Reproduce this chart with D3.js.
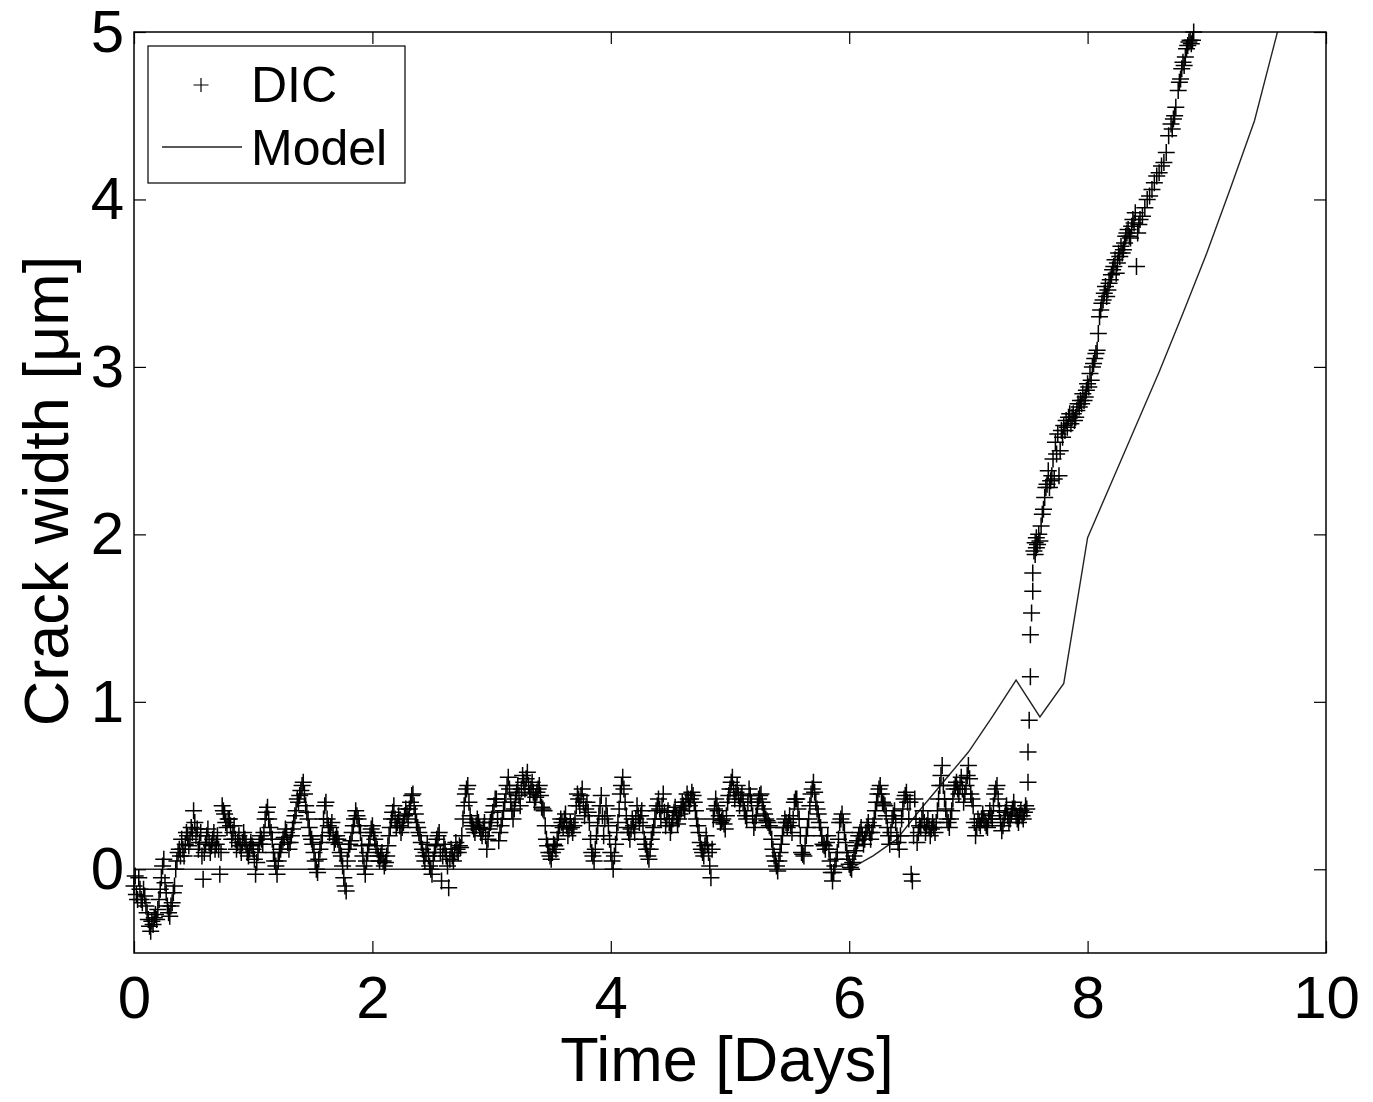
<!DOCTYPE html>
<html>
<head>
<meta charset="utf-8">
<script src="https://cdn.jsdelivr.net/npm/d3@7"></script>
<style>
    body { margin: 0; background: #fff; }
    svg text { font-family: "Liberation Sans", Arial, Helvetica, sans-serif; fill: #000; }
</style>
</head>
<body>
<div id="chart"></div>
<script>
// Tick labels
let xTicks = [0, 2, 4, 6, 8, 10];
let yTicks = [0, 1, 2, 3, 4, 5];

// DIC measurements, flat part: one value every 0.01 day from day 0 (one row = 0.1 day)
let dicStep = 0.01;
let dicFlatValues = [
    -0.10, -0.04, -0.15, -0.18, -0.05, -0.12, -0.18, -0.20, -0.12, -0.16,
    -0.22, -0.26, -0.30, -0.34, -0.37, -0.31, -0.33, -0.29, -0.27, -0.30,
    -0.24, -0.18, -0.12, -0.05, 0.02, 0.06, -0.08, -0.14, -0.22, -0.26,
    -0.28, -0.22, -0.20, -0.14, -0.10, 0.00, 0.05, 0.10, 0.12, 0.08,
    0.18, 0.12, 0.08, 0.15, 0.22, 0.20, 0.14, 0.18, 0.25, 0.22,
    0.35, 0.28, 0.20, 0.24, 0.12, 0.16, 0.22, 0.08, -0.06, 0.10,
    0.15, 0.20, 0.24, 0.16, 0.10, 0.14, 0.18, 0.22, 0.12, 0.15,
    0.20, 0.12, -0.03, 0.10, 0.38, 0.35, 0.33, 0.28, 0.25, 0.30,
    0.30, 0.26, 0.18, 0.22, 0.26, 0.18, 0.12, 0.16, 0.20, 0.14,
    0.10, 0.16, 0.22, 0.18, 0.15, 0.10, 0.08, 0.12, 0.16, 0.14,
    0.12, 0.06, -0.03, 0.04, 0.10, 0.15, 0.20, 0.18, 0.15, 0.22,
    0.30, 0.34, 0.37, 0.30, 0.25, 0.22, 0.18, 0.10, 0.05, 0.02,
    -0.03, 0.05, 0.10, 0.12, 0.15, 0.18, 0.19, 0.24, 0.22, 0.16,
    0.12, 0.16, 0.20, 0.24, 0.28, 0.32, 0.35, 0.42, 0.40, 0.44,
    0.47, 0.50, 0.52, 0.45, 0.38, 0.34, 0.30, 0.25, 0.20, 0.18,
    0.15, 0.10, 0.05, 0.00, -0.02, 0.06, 0.12, 0.16, 0.20, 0.30,
    0.38, 0.40, 0.30, 0.26, 0.22, 0.25, 0.28, 0.20, 0.16, 0.18,
    0.20, 0.18, 0.15, 0.10, 0.08, 0.02, -0.05, -0.10, -0.13, 0.05,
    0.12, 0.15, 0.17, 0.22, 0.26, 0.30, 0.35, 0.32, 0.30, 0.26,
    0.22, 0.14, 0.08, 0.02, -0.03, 0.05, 0.10, 0.15, 0.20, 0.24,
    0.26, 0.22, 0.18, 0.14, 0.12, 0.08, 0.05, 0.08, 0.10, 0.05,
    0.02, 0.04, 0.08, 0.14, 0.20, 0.25, 0.30, 0.34, 0.38, 0.30,
    0.25, 0.28, 0.32, 0.26, 0.22, 0.25, 0.28, 0.32, 0.36, 0.33,
    0.30, 0.36, 0.40, 0.44, 0.45, 0.38, 0.33, 0.28, 0.25, 0.22,
    0.20, 0.16, 0.12, 0.08, 0.05, 0.10, 0.15, 0.08, 0.02, 0.00,
    -0.03, 0.05, 0.10, 0.14, 0.18, 0.20, 0.22, 0.10, -0.07, 0.08,
    0.15, 0.12, 0.08, 0.02, -0.11, 0.06, 0.12, 0.08, 0.05, 0.10,
    0.16, 0.12, 0.10, 0.14, 0.13, 0.20, 0.30, 0.38, 0.45, 0.48,
    0.50, 0.40, 0.32, 0.28, 0.26, 0.24, 0.22, 0.26, 0.30, 0.28,
    0.25, 0.22, 0.20, 0.24, 0.28, 0.20, 0.12, 0.18, 0.24, 0.28,
    0.30, 0.34, 0.38, 0.42, 0.42, 0.30, 0.17, 0.22, 0.26, 0.30,
    0.35, 0.40, 0.45, 0.50, 0.55, 0.48, 0.40, 0.35, 0.30, 0.36,
    0.42, 0.46, 0.50, 0.44, 0.38, 0.48, 0.56, 0.52, 0.48, 0.54,
    0.58, 0.50, 0.45, 0.48, 0.52, 0.46, 0.40, 0.43, 0.46, 0.48,
    0.50, 0.44, 0.37, 0.36, 0.35, 0.26, 0.18, 0.14, 0.10, 0.08,
    0.06, 0.10, 0.15, 0.14, 0.12, 0.18, 0.22, 0.26, 0.30, 0.28,
    0.25, 0.30, 0.33, 0.26, 0.20, 0.24, 0.28, 0.25, 0.22, 0.26,
    0.30, 0.38, 0.45, 0.42, 0.38, 0.44, 0.48, 0.40, 0.32, 0.36,
    0.40, 0.34, 0.28, 0.18, 0.10, 0.08, 0.05, 0.12, 0.20, 0.26,
    0.32, 0.38, 0.44, 0.32, 0.20, 0.30, 0.38, 0.32, 0.26, 0.18,
    0.10, 0.05, 0.00, 0.08, 0.15, 0.22, 0.28, 0.36, 0.45, 0.50,
    0.55, 0.48, 0.40, 0.32, 0.25, 0.22, 0.18, 0.24, 0.30, 0.26,
    0.22, 0.30, 0.38, 0.32, 0.28, 0.32, 0.35, 0.26, 0.18, 0.15,
    0.12, 0.08, 0.06, 0.12, 0.18, 0.22, 0.25, 0.30, 0.35, 0.38,
    0.42, 0.36, 0.30, 0.38, 0.45, 0.34, 0.26, 0.30, 0.35, 0.28,
    0.22, 0.26, 0.30, 0.34, 0.37, 0.32, 0.27, 0.30, 0.33, 0.36,
    0.40, 0.38, 0.35, 0.40, 0.45, 0.42, 0.38, 0.42, 0.46, 0.44,
    0.40, 0.35, 0.30, 0.26, 0.22, 0.16, 0.12, 0.10, 0.08, 0.14,
    0.20, 0.15, 0.10, 0.02, -0.05, 0.12, 0.30, 0.36, 0.42, 0.38,
    0.35, 0.32, 0.28, 0.29, 0.30, 0.27, 0.24, 0.32, 0.40, 0.44,
    0.48, 0.52, 0.55, 0.48, 0.42, 0.46, 0.50, 0.44, 0.38, 0.42,
    0.45, 0.40, 0.35, 0.32, 0.30, 0.40, 0.48, 0.44, 0.40, 0.32,
    0.25, 0.28, 0.32, 0.38, 0.42, 0.44, 0.45, 0.40, 0.36, 0.33,
    0.30, 0.29, 0.28, 0.26, 0.25, 0.18, 0.12, 0.08, 0.05, 0.02,
    -0.01, 0.05, 0.10, 0.15, 0.20, 0.25, 0.30, 0.28, 0.25, 0.28,
    0.32, 0.26, 0.22, 0.30, 0.40, 0.42, 0.42, 0.36, 0.30, 0.20,
    0.10, 0.09, 0.08, 0.14, 0.20, 0.25, 0.30, 0.38, 0.45, 0.48,
    0.52, 0.46, 0.40, 0.36, 0.33, 0.28, 0.25, 0.20, 0.15, 0.14,
    0.12, 0.16, 0.20, 0.12, 0.05, -0.02, -0.07, -0.02, 0.02, 0.06,
    0.10, 0.18, 0.28, 0.30, 0.33, 0.28, 0.22, 0.16, 0.10, 0.06,
    0.03, 0.01, 0.00, 0.04, 0.08, 0.11, 0.14, 0.17, 0.20, 0.22,
    0.25, 0.20, 0.15, 0.18, 0.22, 0.25, 0.28, 0.22, 0.18, 0.22,
    0.26, 0.30, 0.35, 0.40, 0.45, 0.48, 0.50, 0.45, 0.40, 0.39,
    0.38, 0.32, 0.25, 0.20, 0.15, 0.22, 0.30, 0.32, 0.35, 0.28,
    0.20, 0.16, 0.12, 0.20, 0.30, 0.36, 0.42, 0.44, 0.46, 0.40,
    0.30, 0.40, -0.03, -0.07, 0.20, 0.42, 0.30, 0.16, 0.22, 0.26,
    0.25, 0.30, 0.35, 0.28, 0.22, 0.26, 0.30, 0.25, 0.20, 0.24,
    0.28, 0.25, 0.22, 0.28, 0.35, 0.42, 0.50, 0.56, 0.62, 0.50,
    0.42, 0.36, 0.30, 0.28, 0.25, 0.30, 0.35, 0.42, 0.48, 0.50,
    0.52, 0.48, 0.45, 0.50, 0.55, 0.48, 0.40, 0.45, 0.50, 0.56,
    0.62, 0.54, 0.45, 0.42, 0.38, 0.28, 0.20, 0.25, 0.30, 0.28,
    0.26, 0.30, 0.33, 0.30, 0.28, 0.26, 0.25, 0.30, 0.35, 0.32,
    0.30, 0.38, 0.45, 0.48, 0.50, 0.42, 0.35, 0.28, 0.23, 0.26,
    0.30, 0.34, 0.38, 0.32, 0.28, 0.30, 0.33, 0.36, 0.40, 0.36,
    0.32, 0.30, 0.28, 0.32, 0.35, 0.32, 0.30, 0.34, 0.38, 0.36
];

// DIC measurements, jump and rising part: [day, width]
let dicRise = [
    [7.50, 0.52], [7.50, 0.70], [7.51, 0.89], [7.52, 1.15], [7.52, 1.40], [7.53, 1.53], [7.54, 1.66], [7.54, 1.77],
    [7.55, 1.90], [7.56, 1.95], [7.56, 1.88], [7.57, 1.92], [7.57, 1.98], [7.58, 1.94], [7.59, 2.00], [7.60, 1.96],
    [7.61, 2.05], [7.62, 2.12], [7.63, 2.15], [7.64, 2.22], [7.65, 2.28], [7.66, 2.30], [7.67, 2.38], [7.68, 2.28], [7.69, 2.32],
    [7.70, 2.35], [7.71, 2.45], [7.72, 2.33], [7.73, 2.55], [7.74, 2.48], [7.75, 2.60], [7.76, 2.35], [7.77, 2.50], [7.78, 2.62], [7.79, 2.58],
    [7.80, 2.65], [7.81, 2.62], [7.82, 2.68], [7.83, 2.64], [7.84, 2.70], [7.85, 2.72], [7.86, 2.66], [7.87, 2.70], [7.88, 2.72], [7.89, 2.68],
    [7.90, 2.70], [7.91, 2.74], [7.92, 2.78], [7.93, 2.76], [7.94, 2.80], [7.95, 2.78], [7.96, 2.84], [7.97, 2.80], [7.98, 2.82], [7.99, 2.86],
    [8.00, 2.90], [8.01, 2.88], [8.02, 2.96], [8.03, 2.92], [8.04, 3.00], [8.05, 3.02], [8.06, 3.05], [8.07, 3.08], [8.08, 3.10], [8.09, 3.20],
    [8.10, 3.30], [8.11, 3.34], [8.12, 3.38], [8.13, 3.40], [8.14, 3.44], [8.15, 3.48], [8.16, 3.42], [8.17, 3.46], [8.18, 3.50], [8.19, 3.52],
    [8.20, 3.55], [8.21, 3.58], [8.22, 3.60], [8.23, 3.64], [8.24, 3.56], [8.25, 3.62], [8.26, 3.68], [8.27, 3.66], [8.28, 3.72], [8.29, 3.68],
    [8.30, 3.70], [8.31, 3.74], [8.32, 3.78], [8.33, 3.80], [8.34, 3.82], [8.35, 3.78], [8.36, 3.77], [8.37, 3.84], [8.38, 3.88], [8.39, 3.86],
    [8.40, 3.92], [8.41, 3.60], [8.42, 3.80], [8.43, 3.85], [8.44, 3.88], [8.46, 3.90], [8.48, 3.95], [8.50, 4.00], [8.52, 4.02], [8.54, 4.06],
    [8.56, 4.10], [8.58, 4.14], [8.60, 4.16], [8.62, 4.20], [8.64, 4.22], [8.66, 4.28], [8.68, 4.38], [8.70, 4.45], [8.71, 4.42], [8.72, 4.48],
    [8.73, 4.50], [8.74, 4.55], [8.76, 4.65], [8.77, 4.70], [8.78, 4.72], [8.79, 4.78], [8.80, 4.82], [8.81, 4.80], [8.82, 4.85], [8.83, 4.90],
    [8.84, 4.92], [8.85, 4.94], [8.86, 4.95], [8.87, 4.93], [8.88, 4.95], [8.89, 5.00]
];

// Model curve
let modelTimes = [0, 6.0, 6.2, 6.4, 6.6, 6.8, 7.0, 7.2, 7.4, 7.6, 7.8, 8.0, 8.2, 8.4, 8.6, 8.8, 9.0, 9.2, 9.4, 9.6];
let modelValues = [0, 0, 0.08, 0.18, 0.36, 0.53, 0.70, 0.91, 1.13, 0.91, 1.11, 1.98, 2.31, 2.64, 2.97, 3.32, 3.68, 4.07, 4.47, 5.02];

let width = 1373;
let height = 1102;
let plotLeft = 134, plotRight = 1326, plotTop = 32, plotBottom = 953;

let x = d3.scaleLinear().domain([0, 10]).range([plotLeft, plotRight]);
let y = d3.scaleLinear().domain([-0.5, 5]).range([plotBottom, plotTop]);

let svg = d3.select("#chart")
    .append("svg")
    .attr("width", width)
    .attr("height", height)
    .style("background", "#fff");

// build the point list
let dicPoints = dicFlatValues.map((v, i) => ({ t: i * dicStep, v: v }));
dicRise.forEach((d) => dicPoints.push({ t: d[0], v: d[1] }));
let modelPoints = modelTimes.map((t, i) => ({ t: t, v: modelValues[i] }));

svg.append("defs").append("clipPath").attr("id", "plot-clip")
    .append("rect")
    .attr("x", plotLeft).attr("y", plotTop)
    .attr("width", plotRight - plotLeft).attr("height", plotBottom - plotTop);

// Model line
svg.append("path")
    .datum(modelPoints)
    .attr("clip-path", "url(#plot-clip)")
    .attr("fill", "none")
    .attr("stroke", "#222")
    .attr("stroke-width", 1.4)
    .attr("d", d3.line().x(d => x(d.t)).y(d => y(d.v)));

// DIC markers
let plus = "M-8.5,0H8.5M0,-8.5V8.5";
svg.append("g")
    .selectAll("path")
    .data(dicPoints)
    .join("path")
    .attr("transform", d => `translate(${x(d.t)},${y(d.v)})`)
    .attr("d", plus)
    .attr("fill", "none")
    .attr("stroke", "#000")
    .attr("stroke-width", 1.5);

// Axes (MATLAB style box with inward ticks)
let fontSize = "60px";

let xAxis = svg.append("g")
    .attr("transform", `translate(0,${plotBottom})`)
    .call(d3.axisBottom(x).tickValues(xTicks).tickSizeInner(-12).tickSizeOuter(0).tickPadding(22));
let yAxis = svg.append("g")
    .attr("transform", `translate(${plotLeft},0)`)
    .call(d3.axisLeft(y).tickValues(yTicks).tickFormat(d3.format("d")).tickSizeInner(-12).tickSizeOuter(0).tickPadding(10));
let xAxisTop = svg.append("g")
    .attr("transform", `translate(0,${plotTop})`)
    .call(d3.axisTop(x).tickValues(xTicks).tickSizeInner(-12).tickSizeOuter(0).tickFormat(""));
let yAxisRight = svg.append("g")
    .attr("transform", `translate(${plotRight},0)`)
    .call(d3.axisRight(y).tickValues(yTicks).tickSizeInner(-12).tickSizeOuter(0).tickFormat(""));

[xAxis, yAxis, xAxisTop, yAxisRight].forEach(a => {
    a.select(".domain").remove();
    a.selectAll(".tick line").attr("stroke", "#000").attr("stroke-width", 1.2);
    a.selectAll("text").style("font-size", fontSize).attr("fill", "#000");
});

svg.append("rect")
    .attr("x", plotLeft).attr("y", plotTop)
    .attr("width", plotRight - plotLeft).attr("height", plotBottom - plotTop)
    .attr("fill", "none")
    .attr("stroke", "#000")
    .attr("stroke-width", 1.5);

// Axis labels
svg.append("text")
    .attr("x", 727)
    .attr("y", 1081)
    .attr("text-anchor", "middle")
    .style("font-size", "63px")
    .text("Time [Days]");

svg.append("text")
    .attr("transform", "translate(68,491) rotate(-90)")
    .attr("text-anchor", "middle")
    .style("font-size", "63px")
    .text("Crack width [μm]");

// Legend
let legend = svg.append("g");
legend.append("rect")
    .attr("x", 148).attr("y", 46)
    .attr("width", 257).attr("height", 137)
    .attr("fill", "#fff")
    .attr("stroke", "#000")
    .attr("stroke-width", 1.2);
legend.append("path")
    .attr("transform", "translate(201,85)")
    .attr("d", "M-7.5,0H7.5M0,-7V7")
    .attr("fill", "none")
    .attr("stroke", "#000")
    .attr("stroke-width", 1.2);
legend.append("line")
    .attr("x1", 162).attr("x2", 242)
    .attr("y1", 147).attr("y2", 147)
    .attr("stroke", "#222")
    .attr("stroke-width", 1.4);
legend.append("text")
    .attr("x", 251).attr("y", 102)
    .style("font-size", "50px")
    .text("DIC");
legend.append("text")
    .attr("x", 251).attr("y", 165)
    .style("font-size", "50px")
    .text("Model");
</script>
</body>
</html>
